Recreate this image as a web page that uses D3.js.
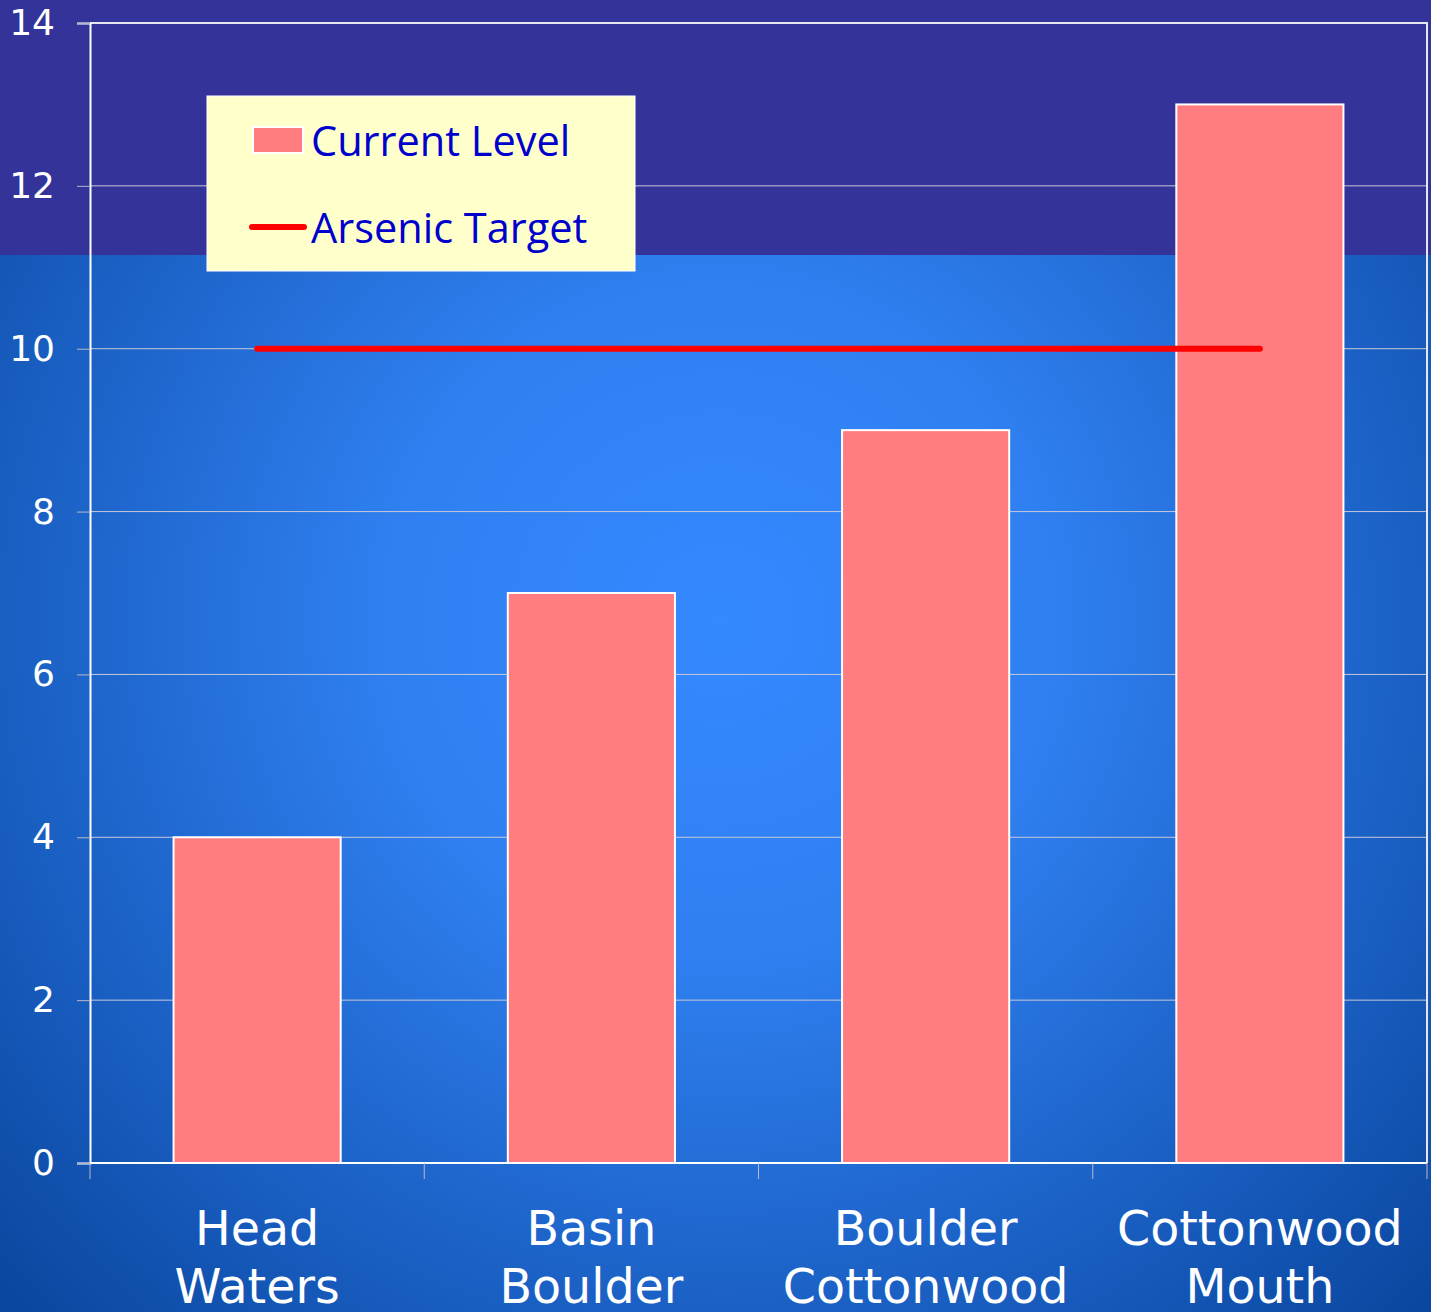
<!DOCTYPE html>
<html>
<head>
<meta charset="utf-8">
<script src="https://cdn.jsdelivr.net/npm/d3@7"></script>
<style>
  html, body { margin: 0; padding: 0; background: #333399; }
  svg { display: block; }
</style>
</head>
<body>
<script>
// Arsenic levels along the river, with the regulatory target
const sites = ["Head Waters", "Basin Boulder", "Boulder Cottonwood", "Cottonwood Mouth"];
const siteLines = [["Head", "Waters"], ["Basin", "Boulder"], ["Boulder", "Cottonwood"], ["Cottonwood", "Mouth"]];
const currentLevel = [4, 7, 9, 13];
const arsenicTarget = [10, 10, 10, 10];
const yTicks = [0, 2, 4, 6, 8, 10, 12, 14];
const legendLabels = ["Current Level", "Arsenic Target"];

const W = 1431, H = 1312;
const margin = { left: 90, right: 4, top: 23, bottom: 149 };
const plotW = W - margin.left - margin.right;
const plotH = H - margin.top - margin.bottom;

const svg = d3.select("body").append("svg").attr("width", W).attr("height", H);

// Background: radial blue glow, with a purple header band
const defs = svg.append("defs");
const grad = defs.append("radialGradient").attr("id", "bg")
  .attr("gradientUnits", "userSpaceOnUse")
  .attr("cx", 720).attr("cy", 620).attr("r", 980);
grad.append("stop").attr("offset", "0").attr("stop-color", "#3589ff");
grad.append("stop").attr("offset", "0.35").attr("stop-color", "#2f7ff0");
grad.append("stop").attr("offset", "1").attr("stop-color", "#0a47a0");
svg.append("rect").attr("width", W).attr("height", H).attr("fill", "url(#bg)");
svg.append("rect").attr("width", W).attr("height", 255).attr("fill", "#333399");

const x = d3.scaleBand().domain(sites).range([0, plotW]).padding(0);
const y = d3.scaleLinear().domain([0, 14]).range([plotH, 0]);

const g = svg.append("g").attr("transform", `translate(${margin.left},${margin.top})`);

// Horizontal gridlines
g.append("g").selectAll("line").data(yTicks.filter(d => d > 0)).join("line")
  .attr("x1", 0).attr("x2", plotW)
  .attr("y1", d => y(d)).attr("y2", d => y(d))
  .attr("stroke", "#c8c8d8").attr("stroke-width", 1);

// Plot-area frame (top and right)
g.append("path")
  .attr("d", `M0,0H${plotW}V${plotH}`)
  .attr("fill", "none").attr("stroke", "#e6e6f0").attr("stroke-width", 2);

// Bars
const barW = x.bandwidth() * 0.5;
g.append("g").selectAll("rect").data(currentLevel).join("rect")
  .attr("x", (d, i) => x(sites[i]) + (x.bandwidth() - barW) / 2)
  .attr("y", d => y(d))
  .attr("width", barW)
  .attr("height", d => y(0) - y(d))
  .attr("fill", "#ff7c80")
  .attr("stroke", "#ffffff").attr("stroke-width", 2);

// Target line
const line = d3.line()
  .x((d, i) => x(sites[i]) + x.bandwidth() / 2)
  .y(d => y(d));
g.append("path").datum(arsenicTarget)
  .attr("d", line)
  .attr("fill", "none").attr("stroke", "#ff0000")
  .attr("stroke-width", 6).attr("stroke-linecap", "round");

// Y axis
const yAxis = g.append("g").call(
  d3.axisLeft(y).tickValues(yTicks).tickSize(13).tickPadding(22).tickFormat(d3.format("d"))
);
yAxis.select(".domain").attr("stroke", "#ffffff").attr("stroke-width", 2);
yAxis.selectAll(".tick line").attr("stroke", "#b8b8c8");
yAxis.selectAll(".tick text")
  .attr("fill", "#ffffff")
  .style("font-family", "'DejaVu Sans', Verdana, sans-serif")
  .style("font-size", "36px");

// X axis (tick marks between categories)
const xAxis = g.append("g").attr("transform", `translate(0,${plotH})`);
xAxis.append("line").attr("x1", 0).attr("x2", plotW)
  .attr("stroke", "#ffffff").attr("stroke-width", 2);
xAxis.selectAll("line.sep").data(d3.range(sites.length + 1)).join("line")
  .attr("class", "sep")
  .attr("x1", i => i * x.step()).attr("x2", i => i * x.step())
  .attr("y1", 0).attr("y2", 16)
  .attr("stroke", "#b8b8c8").attr("stroke-width", 1);

const labels = xAxis.selectAll("text.cat").data(sites).join("text")
  .attr("class", "cat")
  .attr("x", d => x(d) + x.bandwidth() / 2)
  .attr("y", 82)
  .attr("text-anchor", "middle")
  .attr("fill", "#ffffff")
  .style("font-family", "'DejaVu Sans', Verdana, sans-serif")
  .style("font-size", "47.5px");
labels.each(function (d, i) {
  const t = d3.select(this);
  siteLines[i].forEach((ln, k) => {
    t.append("tspan").attr("x", x(d) + x.bandwidth() / 2).attr("dy", k === 0 ? 0 : 58).text(ln);
  });
});

// Legend
const lg = svg.append("g").attr("transform", "translate(207,96)");
lg.append("rect").attr("width", 428).attr("height", 175)
  .attr("fill", "#ffffcc").attr("stroke", "#ffffff").attr("stroke-width", 1);
lg.append("rect").attr("x", 46).attr("y", 31).attr("width", 50).attr("height", 26)
  .attr("fill", "#ff7c80").attr("stroke", "#ffffff").attr("stroke-width", 2);
lg.append("line").attr("x1", 45).attr("x2", 97).attr("y1", 131).attr("y2", 131)
  .attr("stroke", "#ff0000").attr("stroke-width", 6).attr("stroke-linecap", "round");
lg.selectAll("text").data(legendLabels).join("text")
  .attr("x", 104)
  .attr("y", (d, i) => 60 + i * 87)
  .attr("fill", "#0000cc")
  .style("font-family", "'Open Sans', 'Liberation Sans', sans-serif")
  .style("font-size", "41.5px")
  .text(d => d);
</script>
</body>
</html>
